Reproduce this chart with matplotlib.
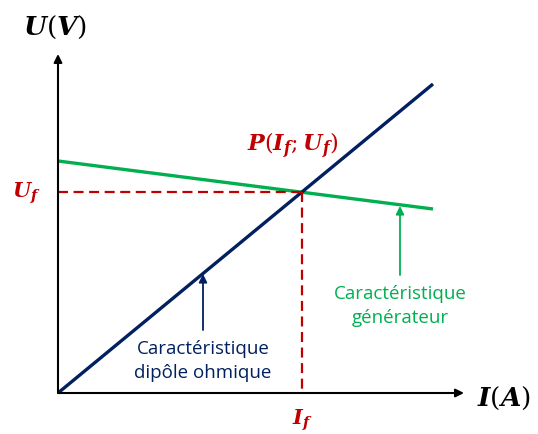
import numpy as np
import matplotlib.pyplot as plt

# characteristic lines (I in A, U in V, arbitrary units)
I_line = [0.0, 3.75]
U_ohm = [0.0, 3.09]
U_gen = [2.32, 1.84]
# operating point
I_f = 2.44
U_f = 2.01

plt.rcParams['mathtext.fontset'] = 'dejavuserif'

fig = plt.figure(figsize=(5.38, 4.34), dpi=100)
ax = fig.add_axes([0, 0, 1, 1])
ax.set_xlim(-0.58, 4.80)
ax.set_ylim(-0.41, 3.93)
ax.axis('off')

dark_blue = '#002060'
green = '#00B050'
red = '#C00000'

# axes with arrows
ax.annotate('', xy=(4.06, 0), xytext=(0, 0),
            arrowprops=dict(arrowstyle='-|>', color='black', lw=1.5, mutation_scale=12, shrinkA=0, shrinkB=0))
ax.annotate('', xy=(0, 3.39), xytext=(0, 0),
            arrowprops=dict(arrowstyle='-|>', color='black', lw=1.5, mutation_scale=12, shrinkA=0, shrinkB=0))

# characteristics
ax.plot(I_line, U_gen, color=green, lw=2.4, solid_capstyle='butt')
ax.plot(I_line, U_ohm, color=dark_blue, lw=2.4, solid_capstyle='butt')

# dashed projections
ax.plot([0, I_f], [U_f, U_f], color=red, lw=1.6, ls=(0, (4.5, 2.5)))
ax.plot([I_f, I_f], [U_f, 0], color=red, lw=1.6, ls=(0, (4.5, 2.5)))

# labels
ax.text(-0.03, 3.66, r'$\mathbfit{U}(\mathbfit{V})$', fontsize=19, ha='center', va='center')
ax.text(4.19, -0.05, r'$\mathbfit{I}(\mathbfit{A})$', fontsize=19, ha='left', va='center')
ax.text(-0.17, 2.0, r'$\mathbfit{U}_{\mathbfit{f}}$', fontsize=15, color=red, ha='right', va='center')
ax.text(I_f, -0.27, r'$\mathbfit{I}_{\mathbfit{f}}$', fontsize=15, color=red, ha='center', va='center')
ax.text(2.35, 2.47, r'$\mathbfit{P}(\mathbfit{I}_{\mathbfit{f}};\mathbfit{U}_{\mathbfit{f}})$',
        fontsize=16, color=red, ha='center', va='center')

ax.text(3.42, 0.87, 'Caractéristique\ngénérateur', color=green, fontsize=13.5,
        family='Open Sans', ha='center', va='center', linespacing=1.4)
ax.annotate('', xy=(3.42, 1.87), xytext=(3.42, 1.18),
            arrowprops=dict(arrowstyle='-|>', color=green, lw=1.3, mutation_scale=12, shrinkA=0, shrinkB=0))

ax.text(1.45, 0.32, 'Caractéristique\ndipôle ohmique', color=dark_blue, fontsize=13.5,
        family='Open Sans', ha='center', va='center', linespacing=1.4)
ax.annotate('', xy=(1.45, 1.19), xytext=(1.45, 0.63),
            arrowprops=dict(arrowstyle='-|>', color=dark_blue, lw=1.3, mutation_scale=12, shrinkA=0, shrinkB=0))

plt.savefig('out.png', dpi=100)
